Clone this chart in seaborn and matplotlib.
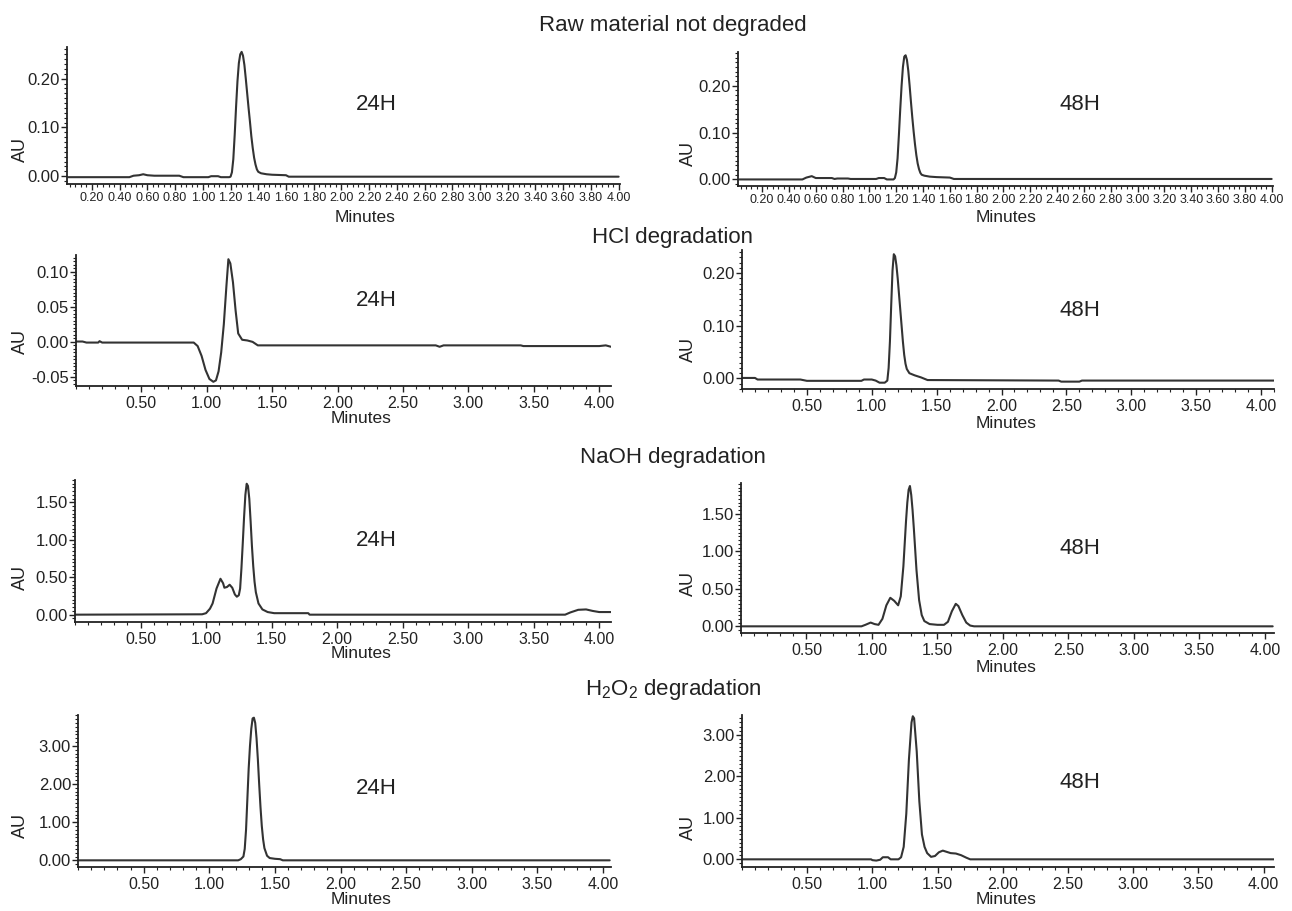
import numpy as np
import pandas as pd
import matplotlib
matplotlib.use("Agg")
import matplotlib.pyplot as plt
from matplotlib.ticker import MultipleLocator, FormatStrFormatter
import seaborn as sns

sns.set_theme(style="ticks")
plt.rcParams['font.family'] = ['Liberation Sans', 'DejaVu Sans']
plt.rcParams['axes.unicode_minus'] = False
plt.rcParams['mathtext.fontset'] = 'custom'
plt.rcParams['mathtext.rm'] = 'Liberation Sans'
plt.rcParams['mathtext.it'] = 'Liberation Sans:italic'

# ---------------- data (minutes, AU) ----------------
raw24_t = [0.03, 0.47, 0.50, 0.54, 0.57, 0.60, 0.65, 0.83, 0.86, 1.04, 1.06, 1.11, 1.13, 1.19,
           1.20, 1.21, 1.22, 1.23, 1.24, 1.25, 1.26, 1.27, 1.28, 1.29, 1.30, 1.31, 1.32, 1.33,
           1.34, 1.35, 1.36, 1.37, 1.38, 1.39, 1.40, 1.42, 1.46, 1.50, 1.60, 1.62, 4.00]
raw24_au = [-0.002, -0.002, 0.001, 0.002, 0.004, 0.002, 0.001, 0.001, -0.002, -0.002, 0.000, 0.000, -0.002, -0.002,
            -0.001, 0.008, 0.035, 0.085, 0.143, 0.195, 0.232, 0.250, 0.255, 0.247, 0.228, 0.200, 0.170, 0.140,
            0.112, 0.082, 0.058, 0.038, 0.024, 0.014, 0.009, 0.006, 0.004, 0.003, 0.002, -0.001, -0.001]

raw48_t = [0.03, 0.50, 0.53, 0.57, 0.60, 0.72, 0.74, 0.76, 0.84, 0.86, 1.05, 1.07, 1.11, 1.13, 1.18,
           1.19, 1.20, 1.21, 1.22, 1.23, 1.24, 1.25, 1.26, 1.27, 1.28, 1.29, 1.30, 1.31, 1.32,
           1.33, 1.34, 1.35, 1.36, 1.37, 1.38, 1.39, 1.41, 1.45, 1.50, 1.60, 1.63, 4.00]
raw48_au = [0.000, 0.000, 0.004, 0.007, 0.003, 0.003, 0.001, 0.002, 0.002, 0.001, 0.001, 0.003, 0.003, 0.000, 0.000,
            0.003, 0.015, 0.045, 0.095, 0.150, 0.200, 0.240, 0.262, 0.265, 0.255, 0.232, 0.200, 0.165, 0.132,
            0.102, 0.075, 0.052, 0.034, 0.022, 0.014, 0.010, 0.008, 0.006, 0.005, 0.004, 0.001, 0.001]

hcl24_t = [0.00, 0.05, 0.08, 0.17, 0.18, 0.20, 0.90, 0.93, 0.96, 0.99, 1.02, 1.05, 1.07, 1.09, 1.11,
           1.13, 1.15, 1.165, 1.18, 1.20, 1.22, 1.24, 1.27, 1.31, 1.35, 1.39, 2.75, 2.78, 2.81,
           3.40, 3.42, 4.00, 4.05, 4.09]
hcl24_au = [0.0005, 0.0005, -0.001, -0.001, 0.001, -0.001, -0.001, -0.006, -0.020, -0.040, -0.053, -0.057, -0.055, -0.042, -0.015,
            0.025, 0.080, 0.118, 0.112, 0.085, 0.045, 0.012, 0.003, 0.002, 0.000, -0.005, -0.005, -0.007, -0.005,
            -0.005, -0.006, -0.006, -0.005, -0.007]

hcl48_t = [0.00, 0.10, 0.12, 0.45, 0.50, 0.92, 0.94, 1.00, 1.03, 1.06, 1.10, 1.12, 1.13, 1.14, 1.15,
           1.16, 1.17, 1.18, 1.19, 1.20, 1.21, 1.22, 1.23, 1.24, 1.25, 1.26, 1.27, 1.29, 1.33,
           1.38, 1.43, 2.44, 2.46, 2.60, 2.62, 4.10]
hcl48_au = [0.001, 0.001, -0.002, -0.002, -0.0045, -0.0045, -0.002, -0.002, -0.004, -0.008, -0.008, -0.004, 0.020, 0.070, 0.140,
            0.205, 0.236, 0.232, 0.215, 0.190, 0.160, 0.130, 0.100, 0.070, 0.045, 0.028, 0.018, 0.010, 0.006,
            0.002, -0.003, -0.004, -0.006, -0.006, -0.004, -0.004]

naoh24_t = [0.00, 0.97, 1.00, 1.03, 1.05, 1.08, 1.11, 1.13, 1.14, 1.16, 1.18, 1.20, 1.22, 1.235,
            1.25, 1.26, 1.27, 1.28, 1.29, 1.30, 1.31, 1.32, 1.33, 1.34, 1.35, 1.36, 1.37, 1.38,
            1.40, 1.43, 1.47, 1.52, 1.78, 1.79, 3.74, 3.78, 3.84, 3.90, 3.95, 4.00, 4.09]
naoh24_au = [0.00, 0.005, 0.02, 0.08, 0.15, 0.35, 0.48, 0.42, 0.36, 0.37, 0.40, 0.36, 0.27, 0.24,
             0.26, 0.35, 0.62, 0.95, 1.30, 1.60, 1.75, 1.72, 1.55, 1.25, 0.92, 0.65, 0.44, 0.30,
             0.15, 0.07, 0.035, 0.02, 0.02, 0.00, 0.00, 0.03, 0.065, 0.07, 0.05, 0.035, 0.035]

naoh48_t = [0.00, 0.92, 0.95, 0.99, 1.02, 1.05, 1.08, 1.11, 1.14, 1.17, 1.20, 1.22, 1.24, 1.26,
            1.27, 1.28, 1.29, 1.30, 1.31, 1.32, 1.34, 1.36, 1.38, 1.40, 1.44, 1.50, 1.55, 1.58,
            1.61, 1.64, 1.66, 1.69, 1.72, 1.75, 1.78, 4.06]
naoh48_au = [0.00, 0.00, 0.02, 0.05, 0.03, 0.02, 0.10, 0.28, 0.38, 0.34, 0.28, 0.40, 0.80, 1.40,
             1.65, 1.82, 1.87, 1.75, 1.55, 1.30, 0.75, 0.35, 0.15, 0.07, 0.03, 0.02, 0.02, 0.06,
             0.20, 0.30, 0.27, 0.15, 0.05, 0.01, 0.00, 0.00]

h2o24_t = [0.00, 1.22, 1.24, 1.26, 1.27, 1.28, 1.29, 1.30, 1.31, 1.32, 1.33, 1.34, 1.35, 1.36,
           1.37, 1.38, 1.39, 1.40, 1.41, 1.42, 1.44, 1.46, 1.50, 1.54, 1.56, 4.05]
h2o24_au = [0.00, 0.00, 0.03, 0.10, 0.30, 0.80, 1.60, 2.40, 3.00, 3.45, 3.72, 3.74, 3.60, 3.20,
            2.65, 2.00, 1.40, 0.90, 0.55, 0.32, 0.12, 0.06, 0.04, 0.03, 0.00, 0.00]

h2o48_t = [0.00, 0.99, 1.00, 1.03, 1.06, 1.08, 1.12, 1.14, 1.20, 1.22, 1.24, 1.26, 1.28, 1.30,
           1.31, 1.32, 1.34, 1.36, 1.38, 1.40, 1.42, 1.45, 1.48, 1.51, 1.54, 1.57, 1.60, 1.64,
           1.68, 1.72, 1.75, 4.08]
h2o48_au = [0.00, 0.00, -0.02, -0.03, -0.01, 0.05, 0.05, 0.00, 0.00, 0.05, 0.30, 1.10, 2.40, 3.30,
            3.45, 3.40, 2.60, 1.40, 0.60, 0.30, 0.15, 0.06, 0.08, 0.17, 0.21, 0.18, 0.15, 0.14,
            0.10, 0.04, 0.00, 0.00]

section_titles = ["Raw material not degraded", "HCl degradation", "NaOH degradation",
                  r"H$_2$O$_2$ degradation"]
time_labels = ["24H", "48H"]

# ---------------- layout ----------------
W, H = 1292, 911
fig = plt.figure(figsize=(W / 100, H / 100), dpi=100)
fig.patch.set_facecolor("white")

def rect(L, R, T, B):
    return [L / W, 1 - B / H, (R - L) / W, (B - T) / H]

panels = [
    # (t, au, rect px, xlim, ylim, yticks, xmajor, time label, label pos, AU y, Minutes (x, y))
    (raw24_t, raw24_au, (67, 620, 47, 184), (0.02, 4.01), (-0.016, 0.265), [0.0, 0.1, 0.2], 0.2, 0, (376, 105), 150, (365, 218)),
    (raw48_t, raw48_au, (738, 1273, 52, 186), (0.02, 4.01), (-0.014, 0.272), [0.0, 0.1, 0.2], 0.2, 1, (1080, 105), 153, (1006, 218)),
    (hcl24_t, hcl24_au, (76, 611, 255, 386), (0.0, 4.09), (-0.063, 0.124), [-0.05, 0.0, 0.05, 0.10], 0.5, 0, (376, 300), 342, (361, 418)),
    (hcl48_t, hcl48_au, (742, 1274, 250, 389), (0.0, 4.10), (-0.020, 0.244), [0.0, 0.1, 0.2], 0.5, 1, (1080, 310), 350, (1006, 423)),
    (naoh24_t, naoh24_au, (75, 611, 480, 622), (0.0, 4.09), (-0.098, 1.80), [0.0, 0.5, 1.0, 1.5], 0.5, 0, (376, 540), 577, (361, 654)),
    (naoh48_t, naoh48_au, (741, 1274, 483, 633), (0.0, 4.07), (-0.089, 1.91), [0.0, 0.5, 1.0, 1.5], 0.5, 1, (1080, 548), 583, (1006, 668)),
    (h2o24_t, h2o24_au, (78, 611, 715, 867), (0.0, 4.06), (-0.175, 3.81), [0.0, 1.0, 2.0, 3.0], 0.5, 0, (376, 788), 825, (361, 900)),
    (h2o48_t, h2o48_au, (742, 1274, 715, 867), (0.0, 4.08), (-0.185, 3.48), [0.0, 1.0, 2.0, 3.0], 0.5, 1, (1080, 782), 828, (1006, 900)),
]

txt = "#222222"
line_col = "#333333"

for i, (t, au, r, xl, yl, yt, xmaj, tl, tpos, au_y, min_pos) in enumerate(panels):
    ax = fig.add_axes(rect(*r))
    df = pd.DataFrame({"Minutes": t, "AU": au})
    sns.lineplot(data=df, x="Minutes", y="AU", ax=ax, color=line_col, lw=1.5,
                 estimator=None, sort=False)
    ax.set_xlim(*xl)
    ax.set_ylim(*yl)
    ax.set_facecolor("white")
    for s in ["top", "right"]:
        ax.spines[s].set_visible(False)
    for s in ["left", "bottom"]:
        ax.spines[s].set_linewidth(1.3)
        ax.spines[s].set_color("#222222")
    ax.set_yticks(yt)
    ax.yaxis.set_major_formatter(FormatStrFormatter("%.2f"))
    ydiff = yt[1] - yt[0]
    ax.yaxis.set_minor_locator(MultipleLocator(ydiff / 10))
    if xmaj == 0.2:
        ax.set_xticks(np.round(np.arange(0.2, 4.001, 0.2), 2))
        ax.xaxis.set_minor_locator(MultipleLocator(0.04))
        ax.xaxis.set_major_formatter(FormatStrFormatter("%.2f"))
        ax.tick_params(axis="x", which="major", labelsize=9, pad=2)
    else:
        ax.set_xticks(np.round(np.arange(0.5, 4.001, 0.5), 2))
        ax.xaxis.set_minor_locator(MultipleLocator(0.1))
        ax.xaxis.set_major_formatter(FormatStrFormatter("%.2f"))
        ax.tick_params(axis="x", which="major", labelsize=11.5, pad=3)
    ax.tick_params(axis="y", which="major", labelsize=12, pad=1)
    ax.tick_params(which="major", length=4, width=1.0, color="#222222", labelcolor=txt, direction="out")
    ax.tick_params(which="minor", length=2, width=0.8, color="#222222", direction="out")
    ax.set_xlabel("Minutes", fontsize=12.5, color=txt, va="center")
    ax.set_ylabel("AU", fontsize=13, color=txt, va="center")
    ax.xaxis.set_label_coords(min_pos[0] / W, 1 - min_pos[1] / H, transform=fig.transFigure)
    lx = 20 if tl == 0 else 688
    ax.yaxis.set_label_coords(lx / W, 1 - au_y / H, transform=fig.transFigure)
    ax.grid(False)
    fig.text(tpos[0] / W, 1 - tpos[1] / H, time_labels[tl], fontsize=16, color=txt,
             ha="center", va="center")

title_y = [26, 237, 457, 689]
for s, y in zip(section_titles, title_y):
    fig.text(673 / W, 1 - y / H, s, fontsize=16, color=txt, ha="center", va="center")

fig.savefig("out.png", dpi=100, facecolor="white")
